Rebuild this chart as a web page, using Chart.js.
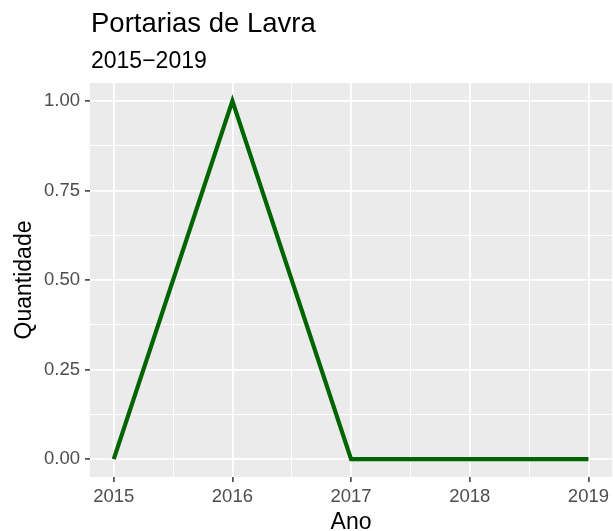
<!DOCTYPE html>
<html>
<head>
<meta charset="utf-8">
<script src="https://cdn.jsdelivr.net/npm/chart.js@4.4.1/dist/chart.umd.min.js"></script>
<style>
  html, body { margin: 0; padding: 0; background: #fff; }
  #wrap { width: 613px; height: 531px; }
</style>
</head>
<body>
<div id="wrap"><canvas id="chart"></canvas></div>
<script>
// data
const anos = [2015, 2016, 2017, 2018, 2019];
const quantidade = [0, 1, 0, 0, 0];
const xMajor = [2015, 2016, 2017, 2018, 2019];
const xMinor = [2015.5, 2016.5, 2017.5, 2018.5];
const yMajor = [0, 0.25, 0.5, 0.75, 1];
const yMinor = [0.125, 0.375, 0.625, 0.875];

const FONT = '"Liberation Sans", Arial, Helvetica, sans-serif';

// grey panel like ggplot's theme_gray
const panelBg = {
    id: 'panelBg',
    beforeDraw(chart) {
        const { ctx, chartArea: a } = chart;
        ctx.save();
        ctx.fillStyle = '#EBEBEB';
        ctx.fillRect(a.left, a.top, a.right - a.left, a.bottom - a.top);
        ctx.restore();
    }
};

// titles and axis titles
const labels = {
    id: 'labels',
    afterDraw(chart) {
        const ctx = chart.ctx;
        const a = chart.chartArea;
        ctx.save();
        ctx.fillStyle = '#000';
        ctx.textBaseline = 'alphabetic';
        ctx.textAlign = 'left';
        ctx.font = '27.5px ' + FONT;
        ctx.fillText('Portarias de Lavra', 91, 32);
        ctx.font = '23px ' + FONT;
        ctx.fillText('2015\u22122019', 91, 68);

        ctx.textAlign = 'center';
        ctx.font = '23px ' + FONT;
        ctx.fillText('Ano', (a.left + a.right) / 2, 529);

        ctx.translate(31, (a.top + a.bottom) / 2);
        ctx.rotate(-Math.PI / 2);
        ctx.fillText('Quantidade', 0, 0);
        ctx.restore();
    }
};

function isMajor(list, v) {
    return list.some(m => Math.abs(m - v) < 1e-9);
}

function gridFor(major) {
    return {
        color: '#FFFFFF',
        lineWidth: c => isMajor(major, c.tick.value) ? 1.8 : 1,
        tickColor: c => isMajor(major, c.tick.value) ? '#333333' : 'rgba(0,0,0,0)',
        tickWidth: 1.5,
        tickLength: 5,
        drawTicks: true
    };
}

new Chart(document.getElementById('chart'), {
    type: 'line',
    data: {
        datasets: [{
            data: anos.map((a, i) => ({ x: a, y: quantidade[i] })),
            borderColor: '#006400',
            borderWidth: 4.2,
            borderJoinStyle: 'miter',
            borderCapStyle: 'butt',
            pointRadius: 0,
            tension: 0,
            fill: false
        }]
    },
    plugins: [panelBg, labels],
    options: {
        responsive: true,
        maintainAspectRatio: false,
        animation: false,
        layout: { padding: { top: 83, left: 0, right: 0, bottom: 0 } },
        plugins: {
            legend: { display: false },
            tooltip: { enabled: false },
            title: { display: false }
        },
        scales: {
            x: {
                type: 'linear',
                min: 2014.8,
                max: 2019.2,
                border: { display: false },
                grid: gridFor(xMajor),
                afterBuildTicks: s => { s.ticks = xMajor.concat(xMinor).sort((p, q) => p - q).map(v => ({ value: v })); },
                afterFit: s => { s.height = 54; },
                ticks: {
                    autoSkip: false,
                    maxRotation: 0,
                    padding: 4,
                    color: '#4D4D4D',
                    font: { family: FONT, size: 18.5 },
                    callback: v => isMajor(xMajor, v) ? String(v) : ''
                }
            },
            y: {
                type: 'linear',
                min: -0.05,
                max: 1.05,
                border: { display: false },
                grid: gridFor(yMajor),
                afterBuildTicks: s => { s.ticks = yMajor.concat(yMinor).sort((p, q) => p - q).map(v => ({ value: v })); },
                afterFit: s => { s.width = 90; },
                ticks: {
                    autoSkip: false,
                    padding: 5,
                    color: '#4D4D4D',
                    font: { family: FONT, size: 18.5 },
                    callback: v => isMajor(yMajor, v) ? v.toFixed(2) : ''
                }
            }
        }
    }
});
</script>
</body>
</html>
